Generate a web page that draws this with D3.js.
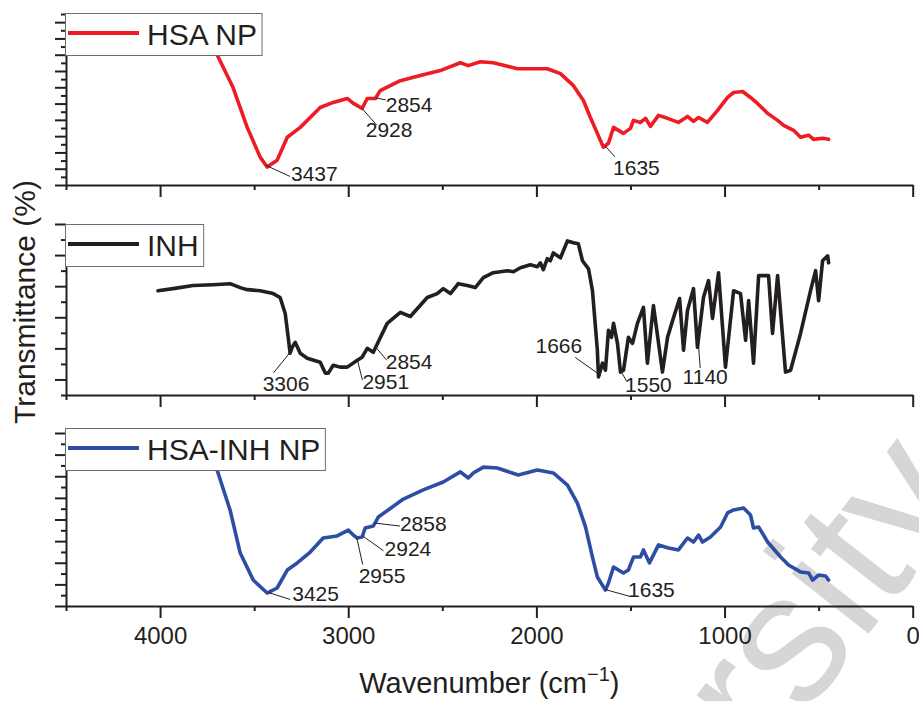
<!DOCTYPE html>
<html>
<head>
<meta charset="utf-8">
<script src="https://cdn.jsdelivr.net/npm/d3@7"></script>
<style>
    body { margin: 0; background: #fff; }
    svg { display: block; font-family: "Liberation Sans", Arial, sans-serif; }
</style>
</head>
<body>
<svg id="chart" width="919" height="701"></svg>
<script>
// ========================================
// DATA (wavenumber cm-1, relative transmittance)
// ========================================

const xTicksMajor = [4000, 3000, 2000, 1000, 0];
const xTicksMinor = [4500, 3500, 2500, 1500, 500];
const seriesNames = ["HSA NP", "INH", "HSA-INH NP"];
const seriesColors = ["#ed1c24", "#231f20", "#2e4ea6"];

const hsaNP = [
    [3745, 95.9], [3697, 76.2], [3612, 57.0], [3537, 33.7], [3468, 16.3], [3431, 10.5], [3378, 14.5],
    [3324, 27.9], [3255, 33.7], [3149, 45.3], [3080, 48.3], [3005, 50.6], [2973, 47.7], [2926, 44.8],
    [2899, 50.6], [2856, 50.6], [2830, 55.2], [2723, 61.0], [2617, 64.0], [2511, 66.9], [2404, 71.5],
    [2362, 69.8], [2298, 72.1], [2229, 71.5], [2101, 68.0], [1942, 68.0], [1872, 65.1], [1803, 58.1],
    [1750, 49.4], [1713, 39.5], [1676, 30.2], [1644, 22.1], [1617, 24.4], [1590, 33.7], [1537, 30.2],
    [1500, 33.1], [1484, 37.8], [1447, 36.6], [1420, 39.0], [1394, 34.3], [1351, 40.7], [1303, 39.0],
    [1245, 36.6], [1197, 40.1], [1165, 37.2], [1138, 39.5], [1091, 36.6], [1037, 43.6], [984, 51.2],
    [952, 54.1], [904, 54.7], [862, 51.2], [825, 47.7], [771, 41.9], [718, 37.8], [686, 34.9],
    [633, 32.0], [596, 27.9], [553, 29.1], [527, 26.7], [479, 27.3], [447, 26.7]
];

const inh = [
    [4011, 61.0], [3931, 62.2], [3824, 64.0], [3718, 64.5], [3628, 65.1], [3574, 62.8], [3537, 61.6],
    [3468, 61.0], [3399, 59.3], [3362, 57.0], [3335, 47.7], [3319, 33.7], [3309, 24.4], [3298, 27.9],
    [3282, 30.8], [3255, 24.4], [3218, 21.5], [3149, 19.2], [3122, 12.8], [3106, 12.8], [3080, 17.4],
    [3043, 16.3], [3005, 16.3], [2952, 20.3], [2926, 22.1], [2899, 27.3], [2867, 25.0], [2793, 41.9],
    [2723, 48.3], [2670, 45.9], [2580, 57.0], [2527, 59.3], [2495, 62.2], [2457, 59.3], [2415, 65.1],
    [2367, 64.0], [2325, 62.8], [2282, 68.6], [2229, 71.5], [2154, 72.7], [2122, 72.1], [2085, 74.4],
    [2032, 76.2], [1995, 75.0], [1979, 77.3], [1963, 73.3], [1942, 79.7], [1926, 78.5], [1910, 83.1],
    [1872, 80.2], [1835, 90.1], [1803, 89.0], [1777, 88.4], [1755, 78.5], [1723, 73.8], [1702, 61.0],
    [1676, 26.2], [1670, 10.5], [1649, 18.6], [1633, 14.5], [1617, 37.8], [1601, 33.7], [1590, 41.9],
    [1569, 30.2], [1553, 13.4], [1537, 14.5], [1511, 33.7], [1489, 30.2], [1463, 41.9], [1431, 51.2],
    [1410, 18.6], [1378, 52.3], [1330, 13.4], [1303, 33.7], [1271, 45.3], [1239, 56.4], [1218, 26.2],
    [1197, 49.4], [1165, 62.2], [1144, 27.9], [1112, 57.0], [1085, 66.9], [1064, 44.8], [1032, 71.5],
    [995, 16.3], [952, 61.0], [915, 59.3], [888, 32.0], [872, 55.2], [846, 18.6], [819, 69.8],
    [766, 69.8], [745, 36.0], [718, 69.8], [676, 13.4], [649, 14.5], [596, 36.0], [543, 61.0],
    [516, 72.7], [500, 55.2], [479, 78.5], [452, 81.4], [447, 77.3]
];

const hsaInhNP = [
    [3734, 96.0], [3697, 78.6], [3628, 55.5], [3574, 30.6], [3505, 15.0], [3431, 7.5], [3378, 10.4],
    [3324, 20.8], [3271, 24.9], [3202, 31.2], [3133, 39.3], [3059, 40.5], [3000, 43.9], [2973, 41.0],
    [2952, 39.3], [2926, 39.9], [2910, 45.1], [2867, 46.2], [2840, 51.4], [2707, 61.8], [2601, 67.1],
    [2495, 71.7], [2404, 77.5], [2362, 74.0], [2335, 76.9], [2282, 80.3], [2208, 79.8], [2096, 75.7],
    [1995, 78.6], [1910, 76.9], [1835, 69.9], [1782, 59.5], [1739, 45.7], [1702, 28.3], [1676, 16.8],
    [1633, 9.2], [1617, 13.3], [1590, 22.5], [1537, 19.1], [1511, 20.8], [1484, 28.3], [1447, 28.3],
    [1431, 32.4], [1399, 24.9], [1351, 35.3], [1298, 33.5], [1245, 32.4], [1197, 39.3], [1165, 37.0],
    [1138, 41.0], [1117, 37.0], [1075, 39.9], [1021, 45.7], [984, 53.8], [952, 55.5], [899, 56.6],
    [862, 52.6], [846, 45.1], [819, 45.7], [771, 37.0], [702, 28.3], [660, 23.7], [596, 19.7],
    [553, 19.1], [532, 15.0], [500, 17.9], [463, 17.3], [447, 15.0]
];

// labelled band positions
const peaksHsaNP = [3437, 2928, 2854, 1635];
const peaksInh = [3306, 2951, 2854, 1666, 1550, 1140];
const peaksHsaInhNP = [3425, 2955, 2924, 2858, 1635];

// ========================================
// LAYOUT
// ========================================

const ink = "#231f20";

// leader line end (lx, ly) from the band point, text from the line end
const panels = [
    {
        data: hsaNP, peaks: peaksHsaNP, bottom: 185, top: 14, n: 21, majorOdd: false, legendDy: -1,
        labels: [
            { lx: 24, ly: 11, tx: 1, ty: 5, anchor: "start" },
            { lx: 15, ly: 17, tx: -11, ty: 12, anchor: "start" },
            { lx: 10, ly: 2, tx: 0, ty: 12, anchor: "start" },
            { lx: 10, ly: 11, tx: -2, ty: 18, anchor: "start" }
        ]
    },
    {
        data: inh, peaks: peaksInh, bottom: 395, top: 224, n: 11, majorOdd: true, legendDy: 0,
        labels: [
            { lx: -17, ly: 21, tx: -11, ty: 18, anchor: "start" },
            { lx: 5, ly: 20, tx: 0, ty: 9, anchor: "start" },
            { lx: 11, ly: 13, tx: -1, ty: 9, anchor: "start" },
            { lx: -24, ly: -17, tx: 7, ty: -4, anchor: "end" },
            { lx: 6, ly: 10, tx: -2, ty: 10, anchor: "start" },
            { lx: 2, ly: 27, tx: 5, ty: 16, anchor: "middle" }
        ]
    },
    {
        data: hsaInhNP, peaks: peaksHsaInhNP, bottom: 606, top: 433, n: 16, majorOdd: false, legendDy: -5,
        labels: [
            { lx: 22, ly: 7, tx: 2, ty: 2, anchor: "start" },
            { lx: 6, ly: 27, tx: -4, ty: 18, anchor: "start" },
            { lx: 21, ly: 15, tx: 1, ty: 5, anchor: "start" },
            { lx: 25, ly: 3, tx: 0, ty: 5, anchor: "start" },
            { lx: 25, ly: 7, tx: -2, ty: 1, anchor: "start" }
        ]
    }
];

const svg = d3.select("#chart");
const x = d3.scaleLinear().domain([4500, 0]).range([66, 912.7]);

function valueAt(data, wn) {
    for (let i = 0; i < data.length - 1; i++) {
        const [a, va] = data[i], [b, vb] = data[i + 1];
        if (wn <= a && wn >= b) return va + (vb - va) * (a - wn) / (a - b);
    }
    return data[data.length - 1][1];
}

function styleAxis(g) {
    g.attr("font-family", null).attr("font-size", null);
    g.selectAll(".domain").attr("stroke", ink).attr("stroke-width", 2);
    g.selectAll(".tick line").attr("stroke", ink).attr("stroke-width", 2);
}

// watermark of the source page, cut by the frame as in the original
svg.append("text")
    .attr("transform", "translate(766,765) rotate(-52)")
    .attr("font-size", 185)
    .attr("fill", "#d6d6d6")
    .text("rsity");

panels.forEach((p, pi) => {
    const y = d3.scaleLinear().domain([0, 100]).range([p.bottom, p.top]);
    const g = svg.append("g");

    // spectrum
    g.append("path")
        .datum(p.data)
        .attr("fill", "none")
        .attr("stroke", seriesColors[pi])
        .attr("stroke-width", 3.6)
        .attr("stroke-linejoin", "round")
        .attr("stroke-linecap", "round")
        .attr("d", d3.line().x(d => x(d[0])).y(d => y(d[1])));

    // y axis: unlabeled major/minor ticks
    const yt = d3.range(p.n + 1).map(i => i * 100 / p.n);
    const isMajor = i => (i % 2 === 0) !== p.majorOdd;
    const yMajor = yt.filter((d, i) => isMajor(i));
    const yMinor = yt.filter((d, i) => !isMajor(i));

    g.append("g")
        .attr("transform", `translate(${x(4500)},0)`)
        .call(d3.axisLeft(y).tickValues(yMajor).tickSize(11).tickSizeOuter(0).tickFormat(""))
        .call(styleAxis);
    g.append("g")
        .attr("transform", `translate(${x(4500)},0)`)
        .call(d3.axisLeft(y).tickValues(yMinor).tickSize(5).tickSizeOuter(0).tickFormat(""))
        .call(styleAxis)
        .select(".domain").remove();

    // x axis
    const last = pi === panels.length - 1;
    const xa = g.append("g")
        .attr("transform", `translate(0,${p.bottom})`)
        .call(d3.axisBottom(x).tickValues(xTicksMajor).tickSize(12).tickSizeOuter(0)
            .tickPadding(9).tickFormat(last ? d3.format("d") : ""))
        .call(styleAxis);
    xa.selectAll("text").attr("font-size", 24).attr("fill", ink);
    g.append("g")
        .attr("transform", `translate(0,${p.bottom})`)
        .call(d3.axisBottom(x).tickValues(xTicksMinor).tickSize(5).tickSizeOuter(0).tickFormat(""))
        .call(styleAxis)
        .select(".domain").remove();

    // band labels
    p.peaks.forEach((wn, k) => {
        const L = p.labels[k];
        const px = x(wn), py = y(valueAt(p.data, wn));
        const ex = px + L.lx, ey = py + L.ly;
        g.append("line")
            .attr("x1", px).attr("y1", py)
            .attr("x2", ex).attr("y2", ey)
            .attr("stroke", ink).attr("stroke-width", 1);
        g.append("text")
            .attr("x", ex + L.tx).attr("y", ey + L.ty)
            .attr("text-anchor", L.anchor)
            .attr("font-size", 21)
            .attr("fill", ink)
            .text(wn);
    });

    // legend
    const by = p.top + p.legendDy;
    const lg = g.append("g");
    const box = lg.append("rect")
        .attr("x", 65.5).attr("y", by + 0.5).attr("height", 42)
        .attr("fill", "#fff").attr("stroke", "#6d6e71").attr("stroke-width", 1);
    lg.append("line")
        .attr("x1", 68).attr("x2", 139).attr("y1", by + 20).attr("y2", by + 20)
        .attr("stroke", seriesColors[pi]).attr("stroke-width", 4);
    const lt = lg.append("text")
        .attr("x", 147).attr("y", by + 32)
        .attr("font-size", 30).attr("fill", ink)
        .text(seriesNames[pi]);
    box.attr("width", 147 + lt.node().getComputedTextLength() + 5 - 65.5);
});

// axis titles
const xt = svg.append("text")
    .attr("x", (x.range()[0] + x.range()[1]) / 2).attr("y", 693)
    .attr("text-anchor", "middle").attr("font-size", 29).attr("fill", ink);
xt.append("tspan").text("Wavenumber (cm");
xt.append("tspan").attr("font-size", 20).attr("dy", -12).text("\u22121");
xt.append("tspan").attr("dy", 12).text(")");

svg.append("text")
    .attr("transform", "translate(35,302) rotate(-90)")
    .attr("text-anchor", "middle").attr("font-size", 30).attr("fill", ink)
    .text("Transmittance (%)");
</script>
</body>
</html>
